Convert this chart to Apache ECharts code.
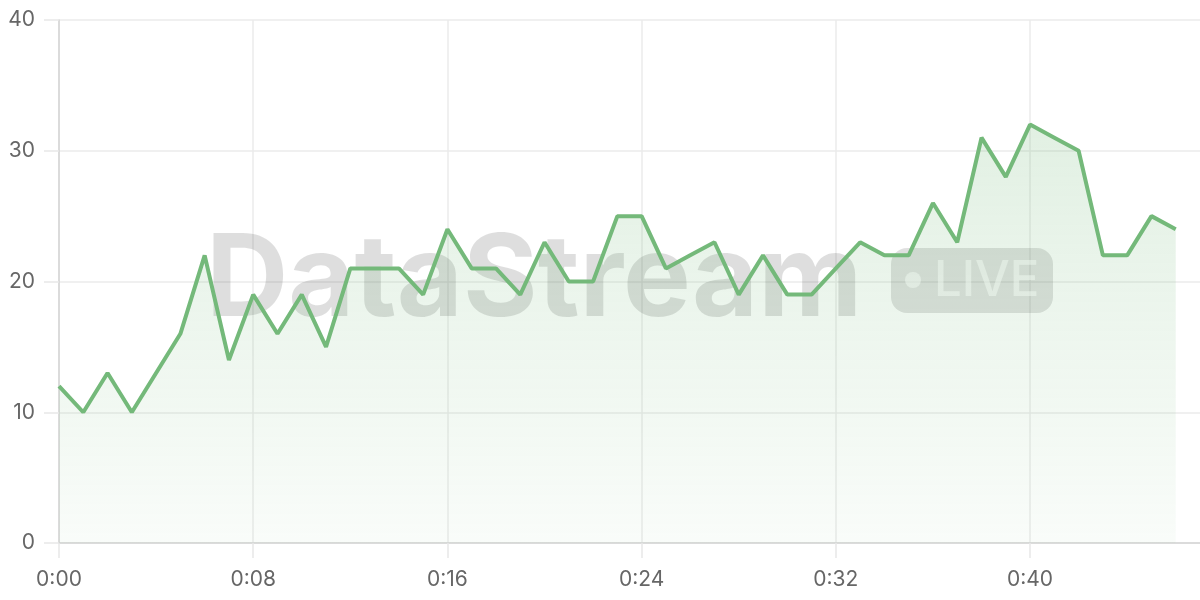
<!DOCTYPE html>
<html>
<head>
  <meta charset="utf-8">
  <title>DataStream</title>
  <script src="https://cdn.jsdelivr.net/npm/echarts@6.0.0/dist/echarts.min.js"></script>
  <style>
    html, body { margin: 0; padding: 0; background: #fff; }
    #main { width: 1200px; height: 600px; }
  </style>
</head>
<body>
  <div id="main"></div>
  <script type="text/javascript">
    // minutes 0..47, one sample per minute (last slot is empty room at the edge)
    const minutes = Array.from({ length: 48 }, (_, i) => i);
    const values = [
      12, 10, 13, 10, 13, 16, 22, 14, 19, 16,
      19, 15, 21, 21, 21, 19, 24, 21, 21, 19,
      23, 20, 20, 25, 25, 21, 22, 23, 19, 22,
      19, 19, 21, 23, 22, 22, 26, 23, 31, 28,
      32, 31, 30, 22, 22, 25, 24
    ];
    const yTicks = [0, 10, 20, 30, 40];

    const fmtMin = m => '0:' + String(m).padStart(2, '0');

    const chart = echarts.init(document.getElementById('main'));

    const option = {
      animation: false,
      textStyle: { fontFamily: 'Inter, "Noto Sans", sans-serif' },
      grid: { left: 59, right: 0, top: 20, bottom: 57 },
      xAxis: {
        type: 'category',
        boundaryGap: false,
        data: minutes.map(fmtMin),
        axisLine: { lineStyle: { color: '#d4d4d4', width: 1.5 } },
        axisTick: { show: true, interval: 7, length: 15, lineStyle: { color: '#e8e8e8', width: 1.5 } },
        axisLabel: { interval: 7, color: '#666', fontSize: 21, margin: 26 },
        splitLine: { show: true, interval: 7, lineStyle: { color: '#ebebeb', width: 1.5 } }
      },
      yAxis: {
        type: 'value',
        min: yTicks[0],
        max: yTicks[yTicks.length - 1],
        interval: 10,
        axisLine: { show: true, lineStyle: { color: '#d4d4d4', width: 1.5 } },
        axisTick: { show: true, length: 15, lineStyle: { color: '#e8e8e8', width: 1.5 } },
        axisLabel: { color: '#666', fontSize: 21, margin: 24 },
        splitLine: { lineStyle: { color: '#ebebeb', width: 1.5 } }
      },
      series: [{
        type: 'line',
        data: values,
        symbol: 'none',
        lineStyle: { color: '#74b97a', width: 4 },
        areaStyle: {
          color: new echarts.graphic.LinearGradient(0, 0, 0, 1, [
            { offset: 0, color: 'rgba(116,185,122,0.30)' },
            { offset: 1, color: 'rgba(116,185,122,0.06)' }
          ])
        },
        z: 3
      }],
      // watermark, drawn beneath the series
      graphic: [
        {
          type: 'text', z: 1, silent: true,
          style: {
            x: 206, y: 282, text: 'DataStream',
            font: 'bold 114px Inter, "Noto Sans", sans-serif',
            fill: 'rgba(0,0,0,0.13)', textVerticalAlign: 'middle'
          }
        },
        {
          type: 'rect', z: 1, silent: true,
          shape: { x: 891, y: 248, width: 162, height: 65, r: 16 },
          style: { fill: 'rgba(0,0,0,0.12)' }
        },
        {
          type: 'circle', z: 2, silent: true,
          shape: { cx: 913, cy: 280, r: 8 },
          style: { fill: 'rgba(255,255,255,0.6)' }
        },
        {
          type: 'text', z: 2, silent: true,
          style: {
            x: 934, y: 281, text: 'LIVE',
            font: '500 49px Inter, "Noto Sans", sans-serif',
            fill: 'rgba(255,255,255,0.6)', textVerticalAlign: 'middle'
          }
        }
      ]
    };

    chart.setOption(option);
  </script>
</body>
</html>
